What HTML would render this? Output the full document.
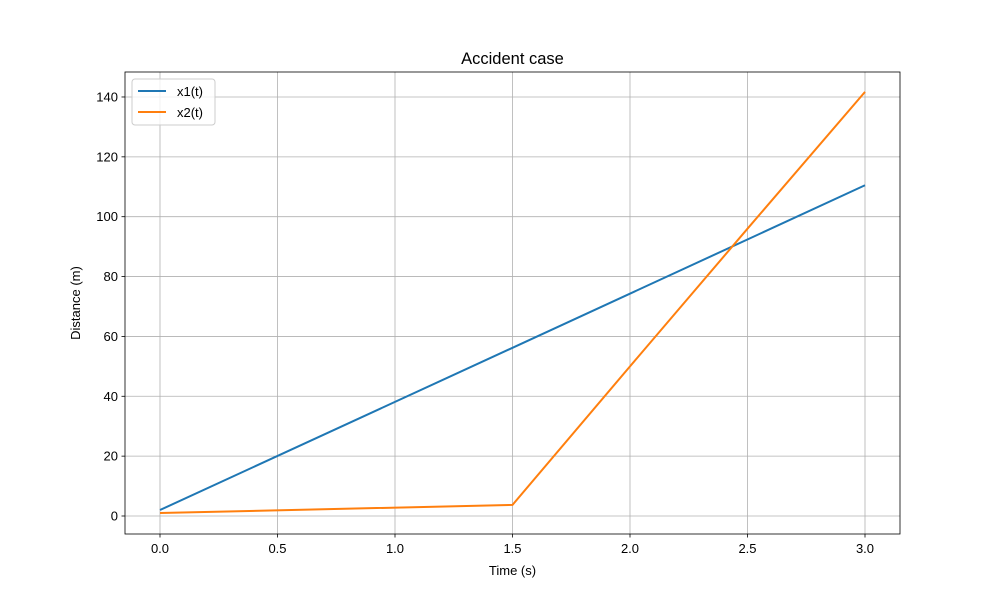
<!DOCTYPE html>
<html><head><meta charset="utf-8"><style>
body{margin:0;background:#fff}
svg text{font-family:"Liberation Sans","DejaVu Sans",sans-serif;}
</style></head><body>
<svg id="chart" width="1000" height="600" viewBox="0 0 1000 600">
<rect width="1000" height="600" fill="#fff"/>
<g id="grid"></g>
<g id="series"></g>
<rect x="125" y="72" width="775" height="462" fill="none" stroke="#000" stroke-width="0.8"/>
<g id="ticks"></g>
<text x="512.5" y="64" font-size="16.5" text-anchor="middle">Accident case</text>
<text x="512.5" y="575" font-size="13" text-anchor="middle">Time (s)</text>
<text x="80" y="303" font-size="13" text-anchor="middle" transform="rotate(-90 80 303)">Distance (m)</text>
<g>
<rect x="132" y="79" width="83" height="46" rx="3" fill="#fff" fill-opacity="0.8" stroke="#ccc"/>
<line x1="138" y1="91" x2="166" y2="91" stroke="#1f77b4" stroke-width="2"/>
<text x="177" y="96" font-size="13">x1(t)</text>
<line x1="138" y1="112" x2="166" y2="112" stroke="#ff7f0e" stroke-width="2"/>
<text x="177" y="117" font-size="13">x2(t)</text>
</g>
</svg>
<script>
const xTicks=[0,0.5,1.0,1.5,2.0,2.5,3.0];
const xTickLabels=["0.0","0.5","1.0","1.5","2.0","2.5","3.0"];
const yTicks=[0,20,40,60,80,100,120,140];
const yTickLabels=["0","20","40","60","80","100","120","140"];
const x1T=[0,1.5,3.0];
const x1V=[2,56.2,110.5];
const x2T=[0,1.5,2.0,2.5,3.0];
const x2V=[1,3.7,50,96,141.7];
const X=t=>160+t*235;
const Y=v=>516-v*2.993;
const NS="http://www.w3.org/2000/svg";
const grid=document.getElementById('grid'),ticks=document.getElementById('ticks'),series=document.getElementById('series');
function mk(tag,attrs,parent){const e=document.createElementNS(NS,tag);for(const k in attrs)e.setAttribute(k,attrs[k]);parent.appendChild(e);return e;}
xTicks.forEach((t,i)=>{
 const g=mk('line',{x1:X(t),x2:X(t),y1:72,y2:534,stroke:'#b0b0b0','stroke-width':0.8},grid);
 
 
 const tk=mk('line',{x1:X(t),x2:X(t),y1:534,y2:537.5,stroke:'#000','stroke-width':0.8},ticks);
 
 
 const tx=mk('text',{x:X(t),y:553,'font-size':13,'text-anchor':'middle'},ticks);
 tx.textContent=xTickLabels[i];
 
 
});
yTicks.forEach((v,i)=>{
 const g=mk('line',{x1:125,x2:900,y1:Y(v),y2:Y(v),stroke:'#b0b0b0','stroke-width':0.8},grid);
 
 
 const tk=mk('line',{x1:121.5,x2:125,y1:Y(v),y2:Y(v),stroke:'#000','stroke-width':0.8},ticks);
 
 
 const tx=mk('text',{x:118,y:Y(v)+4.5,'font-size':13,'text-anchor':'end'},ticks);
 tx.textContent=yTickLabels[i];
 
 
});
const l1=mk('polyline',{points:x1T.map((t,i)=>X(t)+','+Y(x1V[i])).join(' '),fill:'none',stroke:'#1f77b4','stroke-width':2},series);


const l2=mk('polyline',{points:x2T.map((t,i)=>X(t)+','+Y(x2V[i])).join(' '),fill:'none',stroke:'#ff7f0e','stroke-width':2},series);


</script>
</body></html>
